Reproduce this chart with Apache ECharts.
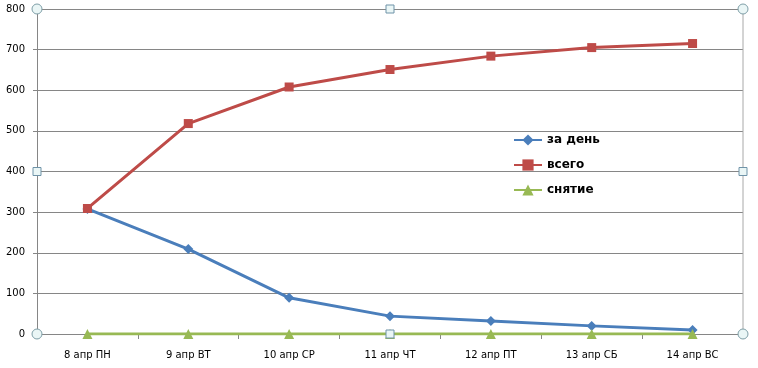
<!DOCTYPE html>
<html><head><meta charset="utf-8">
<script src="https://cdn.jsdelivr.net/npm/echarts@6/dist/echarts.min.js"></script>
<style>html,body{margin:0;padding:0;background:#fff}#c{width:758px;height:368px}</style>
</head><body><div id="c"></div>
<script>
const categories = ['8 апр ПН','9 апр ВТ','10 апр СР','11 апр ЧТ','12 апр ПТ','13 апр СБ','14 апр ВС'];
const perDay = [308, 209, 89, 44, 32, 20, 10];
const total = [309, 518, 608, 651, 684, 705, 715];
const withdrawal = [0, 0, 0, 0, 0, 0, 0];
const yTicks = {min: 0, max: 800, interval: 100};

const chart = echarts.init(document.getElementById('c'), null, {renderer: 'canvas'});
const font = 'DejaVu Sans';
const L = 37, R = 743, T = 9, B = 334;
function circ(x, y) {
  return {type: 'circle', shape: {cx: x, cy: y, r: 5}, style: {fill: '#eaf6f6', stroke: '#7f9fa8', lineWidth: 1}, z: 100};
}
function sq(x, y) {
  return {type: 'rect', shape: {x: x - 4, y: y - 4, width: 8, height: 8}, style: {fill: '#eaf6f6', stroke: '#6f93a8', lineWidth: 1}, z: 100};
}
chart.setOption({
  animation: false,
  backgroundColor: '#fff',
  textStyle: {fontFamily: font},
  grid: {left: L, right: 758 - R, top: T, bottom: 368 - B, containLabel: false},
  legend: {
    orient: 'vertical', left: 508, top: 129, itemGap: 13, itemWidth: 28, itemHeight: 14,
    textStyle: {fontFamily: font, fontSize: 12, fontWeight: 'bold', color: '#000'},
    data: ['за день', 'всего', 'снятие']
  },
  xAxis: {
    type: 'category', data: categories, boundaryGap: true,
    axisLine: {lineStyle: {color: '#868686', width: 1}},
    axisTick: {show: true, length: 5, lineStyle: {color: '#868686'}},
    axisLabel: {fontFamily: font, fontSize: 10, color: '#000', margin: 16}
  },
  yAxis: {
    type: 'value', min: yTicks.min, max: yTicks.max, interval: yTicks.interval,
    axisLine: {show: true, lineStyle: {color: '#868686', width: 1}},
    axisTick: {show: true, length: 4, lineStyle: {color: '#868686'}},
    splitLine: {lineStyle: {color: '#868686', width: 1}},
    axisLabel: {fontFamily: font, fontSize: 10, color: '#000', margin: 12}
  },
  series: [
    {name: 'за день', type: 'line', data: perDay, symbol: 'diamond', symbolSize: 10,
     lineStyle: {color: '#4a7ebb', width: 3}, itemStyle: {color: '#4a7ebb'}, z: 3},
    {name: 'всего', type: 'line', data: total, symbol: 'rect', symbolSize: 9,
     lineStyle: {color: '#be4b48', width: 3}, itemStyle: {color: '#be4b48'}, z: 3},
    {name: 'снятие', type: 'line', data: withdrawal, symbol: 'triangle', symbolSize: 10,
     lineStyle: {color: '#98b954', width: 3}, itemStyle: {color: '#98b954'}, z: 4}
  ],
  graphic: [
    {type: 'line', shape: {x1: R, y1: T, x2: R, y2: B}, style: {stroke: '#a8a8a8', lineWidth: 1}, z: 50},
    circ(L, T), circ(R, T), circ(L, B), circ(R, B),
    sq((L + R) / 2, T), sq((L + R) / 2, B), sq(L, (T + B) / 2), sq(R, (T + B) / 2)
  ]
});
</script></body></html>
